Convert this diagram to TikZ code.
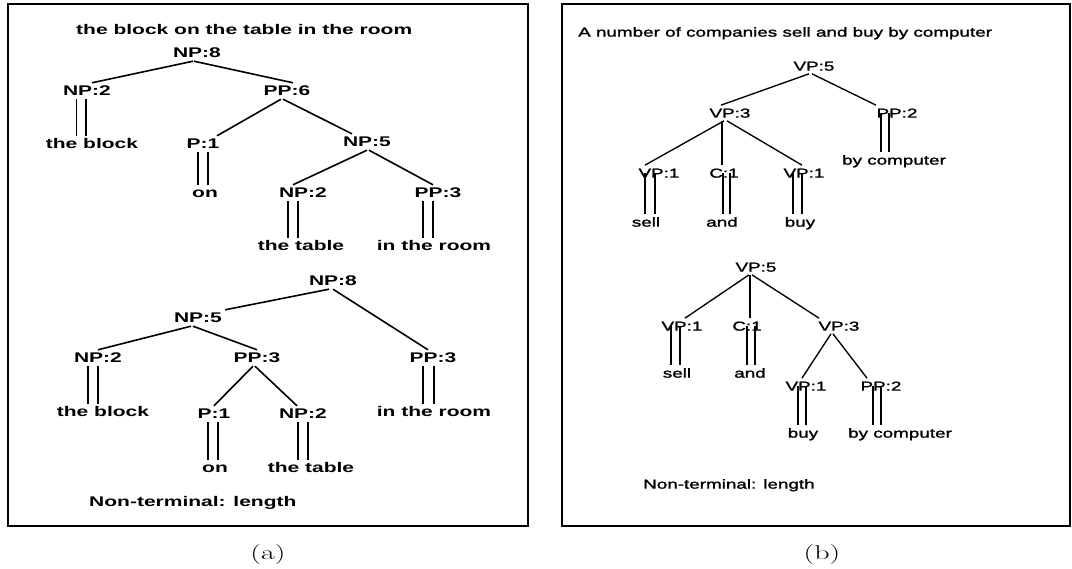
\documentclass[tikz,border=0pt]{standalone}
\usepackage{fontspec}
\usepackage{graphicx}
\newfontfamily\fa[FakeStretch=1.5]{Liberation Sans}
\newfontfamily\fb[FakeStretch=1.45,FakeBold=1.5]{Liberation Sans}
\tikzset{
  lab/.style={inner sep=3pt, text height=10pt, text depth=0pt},
  la/.style={lab, font=\fa\bfseries\fontsize{14}{14}\selectfont},
  lb/.style={lab, text height=9.3pt, font=\fb\fontsize{13}{13}\selectfont},
  ea/.style={line width=1.6pt},
  eb/.style={line width=1.35pt},
  framebox/.style={line width=1.8pt},
  capt/.style={inner sep=0pt},
}
\newcommand\captext[1]{\fontsize{20}{20}\selectfont\scalebox{1.5}[1]{#1}}
% #1 parent, #2 word, #3 #4 x offsets, #5 style, #6 parent anchor
\newcommand\dblines[6]{%
  \draw[#5] ([xshift=#3pt]#1.#6) -- ([xshift=#3pt]#1.#6 |- #2.north);
  \draw[#5] ([xshift=#4pt]#1.#6) -- ([xshift=#4pt]#1.#6 |- #2.north);}
\begin{document}
\begin{tikzpicture}[x=1pt,y=-1pt]
\useasboundingbox (0,0) rectangle (1072,569);
\fill[white] (0,0) rectangle (1072,569);
% frames
\draw[framebox] (8,4) rectangle (528,526);
\draw[framebox] (562,4) rectangle (1070,526);
% ---------------- panel (a), upper tree
\node[la, anchor=west, inner sep=0pt] (ta) at (76,30) {the block on the table in the room};
\node[la] (a8) at (197,53) {NP:8};
\node[la] (a2) at (87,91) {NP:2};
\node[la] (a6) at (287,91) {PP:6};
\node[la] (aw1) at (92,144) {the block};
\node[la] (ap1) at (203,144) {P:1};
\node[la] (a5) at (367,142) {NP:5};
\node[la] (aw2) at (205,193) {on};
\node[la] (an2) at (303,193) {NP:2};
\node[la] (aq3) at (438,193) {PP:3};
\node[la] (aw3) at (301,246) {the table};
\node[la] (aw4) at (434,246) {in the room};
\draw[ea] ([xshift=-4pt]a8.south) -- ([xshift=5pt]a2.north);
\draw[ea] ([xshift=-3pt]a8.south) -- ([xshift=6pt]a6.north);
\draw[ea] ([xshift=-6pt]a6.south) -- ([xshift=14pt]ap1.north);
\draw[ea] ([xshift=-4pt]a6.south) -- ([xshift=-15pt]a5.north);
\draw[ea] (a5.south) -- ([xshift=-10pt]an2.north);
\draw[ea] ([xshift=2pt]a5.south) -- ([xshift=-5pt]aq3.north);
\dblines{a2}{aw1}{-10.5}{-1}{ea}{south}
\dblines{ap1}{aw2}{-5}{5}{ea}{south}
\dblines{an2}{aw3}{-15}{-5}{ea}{south}
\dblines{aq3}{aw4}{-15}{-5}{ea}{south}
% ---------------- panel (a), lower tree
\node[la] (b8) at (333,281) {NP:8};
\node[la] (b5) at (198,318) {NP:5};
\node[la] (bn2) at (98,358) {NP:2};
\node[la] (bp3) at (257,358) {PP:3};
\node[la] (bq3) at (433,358) {PP:3};
\node[la] (bw1) at (103,412) {the block};
\node[la] (bp1) at (214,414) {P:1};
\node[la] (bn2b) at (303,414) {NP:2};
\node[la] (bw4) at (434,412) {in the room};
\node[la] (bw2) at (215,468) {on};
\node[la] (bw3) at (311,468) {the table};
\node[la, anchor=west, inner sep=0pt] (nta) at (89,502) {Non-terminal: length};
\draw[ea] ([xshift=-4pt]b8.south) -- (b5.north east);
\draw[ea] (b8.south) -- ([xshift=-5pt]bq3.north);
\draw[ea] ([xshift=-7pt]b5.south) -- (bn2.north);
\draw[ea] ([xshift=-5pt]b5.south) -- (bp3.north);
\draw[ea] ([xshift=-4pt]bp3.south) -- (bp1.north);
\draw[ea] ([xshift=-2pt]bp3.south) -- ([xshift=-6pt]bn2b.north);
\dblines{bn2}{bw1}{-10}{0}{ea}{south}
\dblines{bq3}{bw4}{-10}{1}{ea}{south}
\dblines{bp1}{bw2}{-6}{4}{ea}{south}
\dblines{bn2b}{bw3}{-5}{5}{ea}{south}
% ---------------- panel (b), upper tree
\node[lb, anchor=west, inner sep=0pt] (tb) at (578,32) {A number of companies sell and buy by computer};
\node[lb] (c5) at (814,66) {VP:5};
\node[lb] (c3) at (730,113) {VP:3};
\node[lb] (cp2) at (897,113) {PP:2};
\node[lb] (cw4) at (894,160) {by computer};
\node[lb] (c1) at (659,173) {VP:1};
\node[lb] (cc) at (724,173) {C:1};
\node[lb] (cv1) at (804,173) {VP:1};
\node[lb] (cw1) at (646,222) {sell};
\node[lb] (cw2) at (722,222) {and};
\node[lb] (cw3) at (800,222) {buy};
\draw[eb] ([xshift=-5pt]c5.south) -- ([xshift=-9pt]c3.north);
\draw[eb] ([xshift=-2pt]c5.south) -- ([xshift=-21pt]cp2.north);
\draw[eb] ([xshift=-6pt]c3.south) -- ([xshift=-14pt]c1.north);
\draw[eb] ([xshift=-8pt]c3.south) -- ([xshift=-8pt]c3.south |- cc.north);
\draw[eb] ([xshift=-3pt]c3.south) -- ([xshift=-2pt]cv1.north);
\dblines{cp2}{cw4}{-16}{-8}{eb}{center}
\dblines{c1}{cw1}{-14}{-4}{eb}{center}
\dblines{cc}{cw2}{-1}{6}{eb}{center}
\dblines{cv1}{cw3}{-11}{-2}{eb}{center}
% ---------------- panel (b), lower tree
\node[lb] (d5) at (756,267) {VP:5};
\node[lb] (d1) at (682,326) {VP:1};
\node[lb] (dc) at (747,326) {C:1};
\node[lb] (d3) at (839,326) {VP:3};
\node[lb] (dw1) at (677,373) {sell};
\node[lb] (dw2) at (750,373) {and};
\node[lb] (dv1) at (806,386) {VP:1};
\node[lb] (dp2) at (881,386) {PP:2};
\node[lb] (dw3) at (803,433) {buy};
\node[lb] (dw4) at (900,433) {by computer};
\node[lb, anchor=west, inner sep=0pt] (ntb) at (643,484) {Non-terminal: length};
\draw[eb] ([xshift=-7pt]d5.south) -- ([xshift=3pt]d1.north);
\draw[eb] ([xshift=-6pt]d5.south) -- ([xshift=-6pt]d5.south |- dc.north);
\draw[eb] ([xshift=-4pt]d5.south) -- ([xshift=-20pt]d3.north);
\draw[eb] ([xshift=-8pt]d3.south) -- ([xshift=-4pt]dv1.north);
\draw[eb] ([xshift=-6pt]d3.south) -- ([xshift=-14pt]dp2.north);
\dblines{d1}{dw1}{-11}{-2}{eb}{center}
\dblines{dc}{dw2}{0}{8}{eb}{center}
\dblines{dv1}{dw3}{-8}{0}{eb}{center}
\dblines{dp2}{dw4}{-8}{0}{eb}{center}
% captions
\node[capt] (capa) at (268,555) {\captext{(a)}};
\node[capt] (capb) at (822,555) {\captext{(b)}};
\end{tikzpicture}
\end{document}
